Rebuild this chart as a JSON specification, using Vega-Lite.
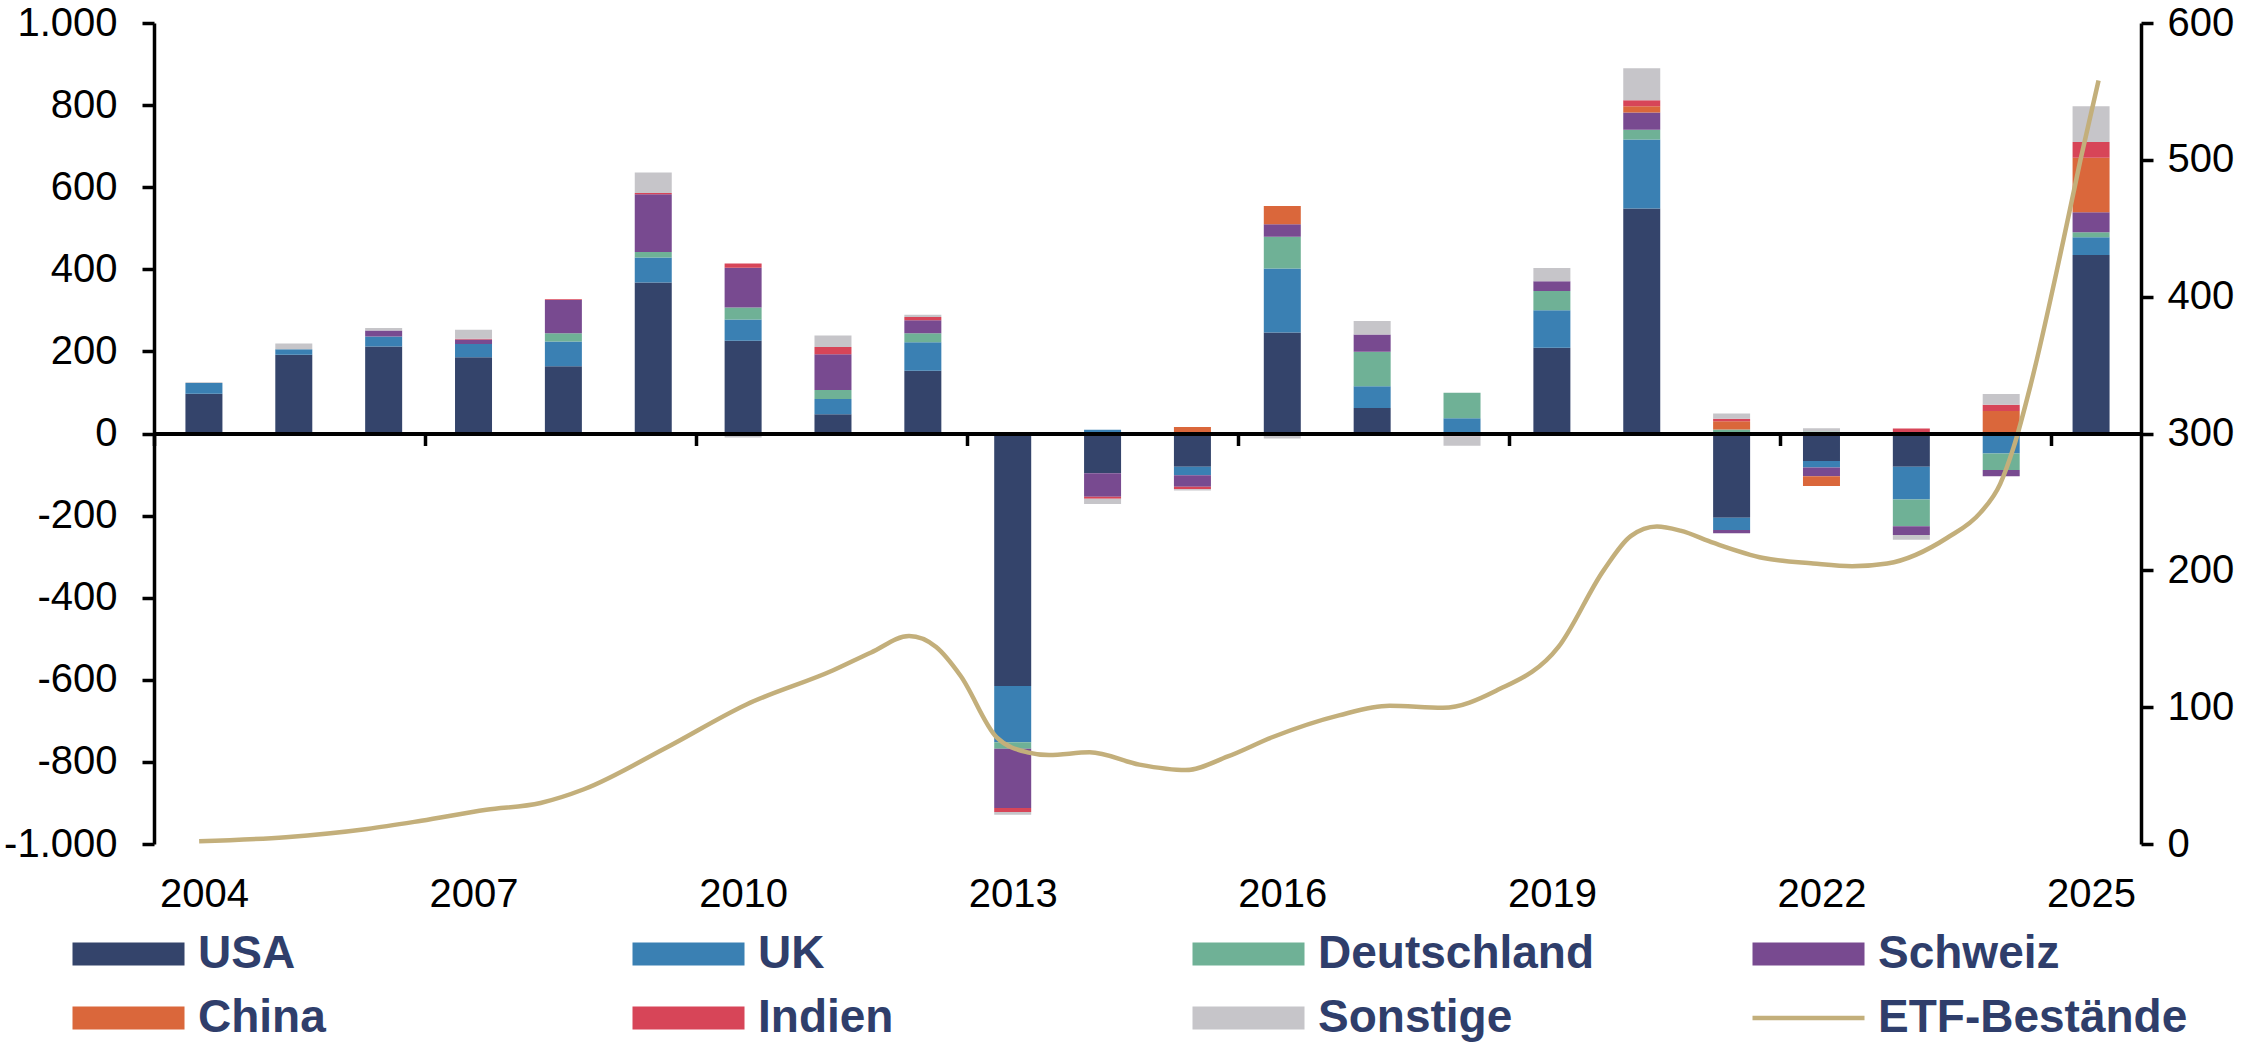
{
  "$schema": "https://vega.github.io/schema/vega-lite/v6.json",
  "width": 1987,
  "height": 821,
  "autosize": {"type": "none"},
  "padding": {"left": 154, "top": 23, "right": 107, "bottom": 212},
  "config": {
    "view": {"stroke": null},
    "font": "Liberation Sans",
    "axis": {
      "grid": false,
      "title": null,
      "labelFont": "Liberation Sans",
      "labelFontSize": 40,
      "labelColor": "#000000",
      "domainColor": "#000000",
      "tickColor": "#000000",
      "domainWidth": 3.5,
      "tickWidth": 3.5,
      "tickSize": 12
    }
  },
  "datasets": {
    "flows": [
      {"j": 2004, "land": "USA", "v": 97, "o": 1},
      {"j": 2004, "land": "UK", "v": 26, "o": 2},
      {"j": 2004, "land": "Sonstige", "v": 2, "o": 7},
      {"j": 2005, "land": "USA", "v": 192, "o": 1},
      {"j": 2005, "land": "UK", "v": 13, "o": 2},
      {"j": 2005, "land": "Sonstige", "v": 14, "o": 7},
      {"j": 2006, "land": "USA", "v": 212, "o": 1},
      {"j": 2006, "land": "UK", "v": 24, "o": 2},
      {"j": 2006, "land": "Schweiz", "v": 15, "o": 4},
      {"j": 2006, "land": "Sonstige", "v": 6, "o": 7},
      {"j": 2007, "land": "USA", "v": 186, "o": 1},
      {"j": 2007, "land": "UK", "v": 32, "o": 2},
      {"j": 2007, "land": "Schweiz", "v": 11, "o": 4},
      {"j": 2007, "land": "Indien", "v": 2, "o": 6},
      {"j": 2007, "land": "Sonstige", "v": 22, "o": 7},
      {"j": 2008, "land": "USA", "v": 164, "o": 1},
      {"j": 2008, "land": "UK", "v": 60, "o": 2},
      {"j": 2008, "land": "Deutschland", "v": 20, "o": 3},
      {"j": 2008, "land": "Schweiz", "v": 81, "o": 4},
      {"j": 2008, "land": "Indien", "v": 2, "o": 6},
      {"j": 2009, "land": "USA", "v": 368, "o": 1},
      {"j": 2009, "land": "UK", "v": 61, "o": 2},
      {"j": 2009, "land": "Deutschland", "v": 13, "o": 3},
      {"j": 2009, "land": "Schweiz", "v": 141, "o": 4},
      {"j": 2009, "land": "Indien", "v": 3, "o": 6},
      {"j": 2009, "land": "Sonstige", "v": 50, "o": 7},
      {"j": 2010, "land": "USA", "v": 226, "o": 1},
      {"j": 2010, "land": "UK", "v": 52, "o": 2},
      {"j": 2010, "land": "Deutschland", "v": 29, "o": 3},
      {"j": 2010, "land": "Schweiz", "v": 97, "o": 4},
      {"j": 2010, "land": "Indien", "v": 10, "o": 6},
      {"j": 2010, "land": "Sonstige", "v": -10, "o": 7},
      {"j": 2011, "land": "USA", "v": 47, "o": 1},
      {"j": 2011, "land": "UK", "v": 37, "o": 2},
      {"j": 2011, "land": "Deutschland", "v": 22, "o": 3},
      {"j": 2011, "land": "Schweiz", "v": 87, "o": 4},
      {"j": 2011, "land": "Indien", "v": 18, "o": 6},
      {"j": 2011, "land": "Sonstige", "v": 28, "o": 7},
      {"j": 2012, "land": "USA", "v": 153, "o": 1},
      {"j": 2012, "land": "UK", "v": 69, "o": 2},
      {"j": 2012, "land": "Deutschland", "v": 22, "o": 3},
      {"j": 2012, "land": "Schweiz", "v": 32, "o": 4},
      {"j": 2012, "land": "Indien", "v": 8, "o": 6},
      {"j": 2012, "land": "Sonstige", "v": 5, "o": 7},
      {"j": 2013, "land": "USA", "v": -615, "o": 1},
      {"j": 2013, "land": "UK", "v": -137, "o": 2},
      {"j": 2013, "land": "Deutschland", "v": -16, "o": 3},
      {"j": 2013, "land": "Schweiz", "v": -144, "o": 4},
      {"j": 2013, "land": "Indien", "v": -10, "o": 6},
      {"j": 2013, "land": "Sonstige", "v": -7, "o": 7},
      {"j": 2014, "land": "USA", "v": -97, "o": 1},
      {"j": 2014, "land": "UK", "v": 9, "o": 2},
      {"j": 2014, "land": "Schweiz", "v": -57, "o": 4},
      {"j": 2014, "land": "Indien", "v": -5, "o": 6},
      {"j": 2014, "land": "Sonstige", "v": -13, "o": 7},
      {"j": 2015, "land": "USA", "v": -81, "o": 1},
      {"j": 2015, "land": "UK", "v": -21, "o": 2},
      {"j": 2015, "land": "Schweiz", "v": -28, "o": 4},
      {"j": 2015, "land": "China", "v": 16, "o": 5},
      {"j": 2015, "land": "Indien", "v": -6, "o": 6},
      {"j": 2015, "land": "Sonstige", "v": -3, "o": 7},
      {"j": 2016, "land": "USA", "v": 246, "o": 1},
      {"j": 2016, "land": "UK", "v": 156, "o": 2},
      {"j": 2016, "land": "Deutschland", "v": 77, "o": 3},
      {"j": 2016, "land": "Schweiz", "v": 31, "o": 4},
      {"j": 2016, "land": "China", "v": 44, "o": 5},
      {"j": 2016, "land": "Sonstige", "v": -12, "o": 7},
      {"j": 2017, "land": "USA", "v": 62, "o": 1},
      {"j": 2017, "land": "UK", "v": 53, "o": 2},
      {"j": 2017, "land": "Deutschland", "v": 84, "o": 3},
      {"j": 2017, "land": "Schweiz", "v": 42, "o": 4},
      {"j": 2017, "land": "Indien", "v": -4, "o": 6},
      {"j": 2017, "land": "Sonstige", "v": 33, "o": 7},
      {"j": 2018, "land": "UK", "v": 37, "o": 2},
      {"j": 2018, "land": "Deutschland", "v": 62, "o": 3},
      {"j": 2018, "land": "Indien", "v": -7, "o": 6},
      {"j": 2018, "land": "Sonstige", "v": -23, "o": 7},
      {"j": 2019, "land": "USA", "v": 209, "o": 1},
      {"j": 2019, "land": "UK", "v": 91, "o": 2},
      {"j": 2019, "land": "Deutschland", "v": 47, "o": 3},
      {"j": 2019, "land": "Schweiz", "v": 24, "o": 4},
      {"j": 2019, "land": "Sonstige", "v": 32, "o": 7},
      {"j": 2020, "land": "USA", "v": 548, "o": 1},
      {"j": 2020, "land": "UK", "v": 168, "o": 2},
      {"j": 2020, "land": "Deutschland", "v": 24, "o": 3},
      {"j": 2020, "land": "Schweiz", "v": 42, "o": 4},
      {"j": 2020, "land": "China", "v": 15, "o": 5},
      {"j": 2020, "land": "Indien", "v": 15, "o": 6},
      {"j": 2020, "land": "Sonstige", "v": 78, "o": 7},
      {"j": 2021, "land": "USA", "v": -205, "o": 1},
      {"j": 2021, "land": "UK", "v": -30, "o": 2},
      {"j": 2021, "land": "Deutschland", "v": 10, "o": 3},
      {"j": 2021, "land": "Schweiz", "v": -8, "o": 4},
      {"j": 2021, "land": "China", "v": 20, "o": 5},
      {"j": 2021, "land": "Indien", "v": 6, "o": 6},
      {"j": 2021, "land": "Sonstige", "v": 13, "o": 7},
      {"j": 2022, "land": "USA", "v": -67, "o": 1},
      {"j": 2022, "land": "UK", "v": -16, "o": 2},
      {"j": 2022, "land": "Deutschland", "v": 5, "o": 3},
      {"j": 2022, "land": "Schweiz", "v": -21, "o": 4},
      {"j": 2022, "land": "China", "v": -24, "o": 5},
      {"j": 2022, "land": "Sonstige", "v": 8, "o": 7},
      {"j": 2023, "land": "USA", "v": -81, "o": 1},
      {"j": 2023, "land": "UK", "v": -80, "o": 2},
      {"j": 2023, "land": "Deutschland", "v": -65, "o": 3},
      {"j": 2023, "land": "Schweiz", "v": -21, "o": 4},
      {"j": 2023, "land": "Indien", "v": 12, "o": 6},
      {"j": 2023, "land": "Sonstige", "v": -12, "o": 7},
      {"j": 2024, "land": "UK", "v": -49, "o": 2},
      {"j": 2024, "land": "Deutschland", "v": -40, "o": 3},
      {"j": 2024, "land": "Schweiz", "v": -15, "o": 4},
      {"j": 2024, "land": "China", "v": 55, "o": 5},
      {"j": 2024, "land": "Indien", "v": 15, "o": 6},
      {"j": 2024, "land": "Sonstige", "v": 26, "o": 7},
      {"j": 2025, "land": "USA", "v": 435, "o": 1},
      {"j": 2025, "land": "UK", "v": 43, "o": 2},
      {"j": 2025, "land": "Deutschland", "v": 12, "o": 3},
      {"j": 2025, "land": "Schweiz", "v": 49, "o": 4},
      {"j": 2025, "land": "China", "v": 133, "o": 5},
      {"j": 2025, "land": "Indien", "v": 38, "o": 6},
      {"j": 2025, "land": "Sonstige", "v": 87, "o": 7}
    ],
    "etf": [
      {"j": 2004.0, "etf": 2, "land": "ETF-Bestände"},
      {"j": 2004.96, "etf": 5, "land": "ETF-Bestände"},
      {"j": 2005.86, "etf": 11, "land": "ETF-Bestände"},
      {"j": 2006.46, "etf": 17, "land": "ETF-Bestände"},
      {"j": 2007.18, "etf": 25, "land": "ETF-Bestände"},
      {"j": 2007.78, "etf": 30, "land": "ETF-Bestände"},
      {"j": 2008.26, "etf": 40, "land": "ETF-Bestände"},
      {"j": 2009.16, "etf": 70, "land": "ETF-Bestände"},
      {"j": 2010.06, "etf": 102, "land": "ETF-Bestände"},
      {"j": 2011.02, "etf": 127, "land": "ETF-Bestände"},
      {"j": 2011.44, "etf": 140, "land": "ETF-Bestände"},
      {"j": 2011.86, "etf": 152, "land": "ETF-Bestände"},
      {"j": 2012.16, "etf": 144, "land": "ETF-Bestände"},
      {"j": 2012.43, "etf": 123, "land": "ETF-Bestände"},
      {"j": 2012.83, "etf": 78, "land": "ETF-Bestände"},
      {"j": 2013.17, "etf": 67, "land": "ETF-Bestände"},
      {"j": 2013.41, "etf": 65, "land": "ETF-Bestände"},
      {"j": 2013.86, "etf": 67, "land": "ETF-Bestände"},
      {"j": 2014.41, "etf": 58, "land": "ETF-Bestände"},
      {"j": 2014.92, "etf": 54, "land": "ETF-Bestände"},
      {"j": 2015.39, "etf": 64, "land": "ETF-Bestände"},
      {"j": 2015.88, "etf": 78, "land": "ETF-Bestände"},
      {"j": 2016.62, "etf": 94, "land": "ETF-Bestände"},
      {"j": 2017.18, "etf": 101, "land": "ETF-Bestände"},
      {"j": 2017.77, "etf": 99.5, "land": "ETF-Bestände"},
      {"j": 2018.36, "etf": 112, "land": "ETF-Bestände"},
      {"j": 2019.05, "etf": 144, "land": "ETF-Bestände"},
      {"j": 2019.55, "etf": 200, "land": "ETF-Bestände"},
      {"j": 2019.85, "etf": 225, "land": "ETF-Bestände"},
      {"j": 2020.14, "etf": 232, "land": "ETF-Bestände"},
      {"j": 2020.4, "etf": 229, "land": "ETF-Bestände"},
      {"j": 2020.77, "etf": 220, "land": "ETF-Bestände"},
      {"j": 2021.32, "etf": 209, "land": "ETF-Bestände"},
      {"j": 2021.87, "etf": 205, "land": "ETF-Bestände"},
      {"j": 2022.3, "etf": 203, "land": "ETF-Bestände"},
      {"j": 2022.69, "etf": 205, "land": "ETF-Bestände"},
      {"j": 2023.36, "etf": 224, "land": "ETF-Bestände"},
      {"j": 2023.72, "etf": 242, "land": "ETF-Bestände"},
      {"j": 2023.94, "etf": 263, "land": "ETF-Bestände"},
      {"j": 2024.09, "etf": 290, "land": "ETF-Bestände"},
      {"j": 2024.28, "etf": 336, "land": "ETF-Bestände"},
      {"j": 2024.64, "etf": 441, "land": "ETF-Bestände"},
      {"j": 2024.83, "etf": 500, "land": "ETF-Bestände"},
      {"j": 2025.03, "etf": 558, "land": "ETF-Bestände"}
    ]
  },
  "layer": [
    {
      "data": {"name": "flows"},
      "mark": {"type": "bar", "size": 37},
      "encoding": {
        "x": {
          "field": "j",
          "type": "quantitative",
          "scale": {"domain": [2003.5, 2025.5], "nice": false, "zero": false},
          "axis": {
            "orient": "bottom",
            "values": [2004, 2007, 2010, 2013, 2016, 2019, 2022, 2025],
            "format": "d",
            "domain": false,
            "ticks": false,
            "labelPadding": 30,
            "labelFlush": false
          }
        },
        "y": {
          "field": "v",
          "type": "quantitative",
          "stack": "zero",
          "scale": {"domain": [-1000, 1000], "nice": false},
          "axis": {
            "orient": "left",
            "values": [-1000, -800, -600, -400, -200, 0, 200, 400, 600, 800, 1000],
            "labelPadding": 25,
            "labelFlush": false,
            "labelExpr": "(datum.value < 0 ? '-' : '') + replace(format(abs(datum.value), ','), ',', '.')"
          }
        },
        "color": {
          "field": "land",
          "type": "nominal",
          "scale": {
            "domain": ["USA", "UK", "Deutschland", "Schweiz", "China", "Indien", "Sonstige", "ETF-Bestände"],
            "range": ["#34446B", "#3A80B3", "#6FB196", "#784A90", "#DA673B", "#D74558", "#C6C5C9", "#C3AF7B"]
          },
          "legend": {
            "orient": "none",
            "legendX": -93,
            "legendY": 908,
            "direction": "horizontal",
            "columns": 4,
            "title": null,
            "gridAlign": "all",
            "symbolType": "M-1,-1H8.74V1H-1Z",
            "symbolSize": 529,
            "symbolStrokeWidth": 0,
            "labelFont": "Liberation Sans",
            "labelFontSize": 46,
            "labelFontWeight": "bold",
            "labelColor": "#2F3E6B",
            "labelOffset": 91,
            "labelLimit": 600,
            "columnPadding": 113,
            "rowPadding": 18,
            "encode": {
              "symbols": {
                "update": {
                  "shape": {"signal": "datum.value === 'ETF-Bestände' ? 'M-1,-0.2H8.74V0.2H-1Z' : 'M-1,-1H8.74V1H-1Z'"},
                  "fill": {"signal": "scale('color', datum.value)"},
                  "stroke": {"value": "transparent"},
                  "opacity": {"value": 1}
                }
              }
            }
          }
        },
        "order": {"field": "o", "type": "quantitative"}
      }
    },
    {
      "data": {"name": "etf"},
      "mark": {"type": "line", "interpolate": "monotone", "strokeWidth": 4.5},
      "encoding": {
        "x": {
          "field": "j",
          "type": "quantitative",
          "scale": {"domain": [2003.5, 2025.5], "nice": false, "zero": false},
          "axis": {
            "orient": "bottom",
            "offset": -410.5,
            "values": [2003.5, 2006.5, 2009.5, 2012.5, 2015.5, 2018.5, 2021.5, 2024.5],
            "labels": false,
            "domainWidth": 4,
            "zindex": 1
          }
        },
        "y": {
          "field": "etf",
          "type": "quantitative",
          "scale": {"domain": [0, 600], "nice": false},
          "axis": {
            "orient": "right",
            "values": [0, 100, 200, 300, 400, 500, 600],
            "format": "d",
            "labelPadding": 14,
            "labelFlush": false
          }
        },
        "color": {"field": "land", "type": "nominal"}
      }
    }
  ],
  "resolve": {
    "scale": {"x": "independent", "y": "independent"},
    "axis": {"x": "independent", "y": "independent"}
  }
}
